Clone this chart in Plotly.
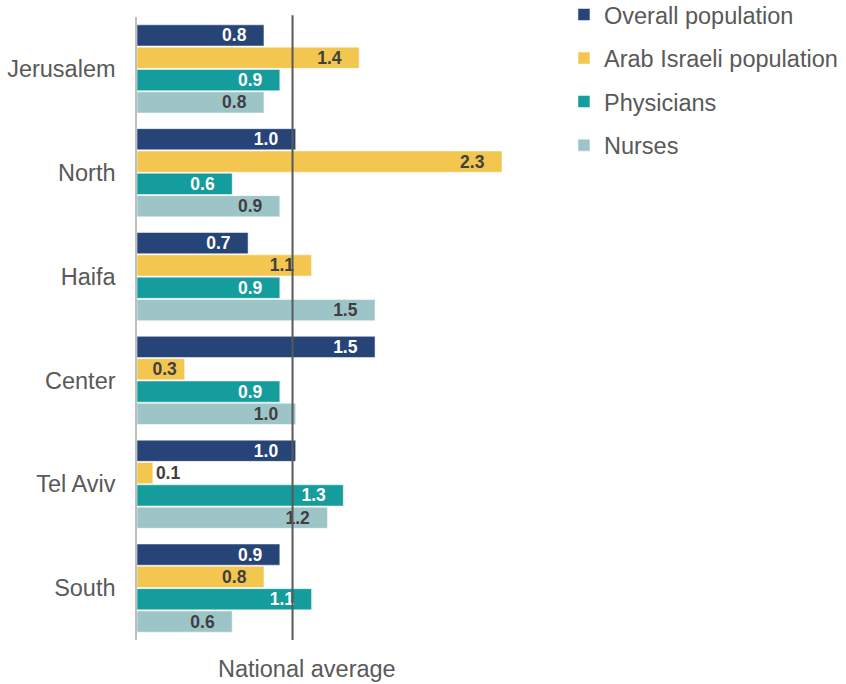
import plotly.graph_objects as go

# Regional ratios relative to the national average (1.0)
regions = ["Jerusalem", "North", "Haifa", "Center", "Tel Aviv", "South"]
overall = [0.8, 1.0, 0.7, 1.5, 1.0, 0.9]
arab_israeli = [1.4, 2.3, 1.1, 0.3, 0.1, 0.8]
physicians = [0.9, 0.6, 0.9, 0.9, 1.3, 1.1]
nurses = [0.8, 0.9, 1.5, 1.0, 1.2, 0.6]
national_average = 0.98

series = [
    ("Overall population", overall, "#264478", "white"),
    ("Arab Israeli population", arab_israeli, "#F2C64F", "#404040"),
    ("Physicians", physicians, "#159C9C", "white"),
    ("Nurses", nurses, "#9DC5C8", "#404040"),
]

FONT = "Liberation Sans, Arial, sans-serif"
W, H = 846, 684
ML, MR, MT, MB = 137, 290, 17, 44
PX_PER_UNIT = 158.7
x_max = (W - ML - MR) / PX_PER_UNIT


def bar_label(v, pos):
    # trailing no-break spaces keep inside labels clear of the bar end
    if pos != "inside":
        return f"{v:.1f}"
    pad = "\u00a0" * (3 if v >= 0.5 else 1)
    return f"{v:.1f}" + pad


fig = go.Figure()
for i, (name, vals, color, txtcolor) in enumerate(series):
    # small bars get their label outside the bar
    positions = ["inside" if v >= 0.25 else "outside" for v in vals]
    fig.add_trace(go.Bar(
        y=regions, x=vals, name=name, orientation="h",
        marker=dict(color=color, line=dict(color="white", width=0.5)),
        text=[bar_label(v, p) for v, p in zip(vals, positions)],
        textposition=positions,
        insidetextanchor="end",
        constraintext="none",
        insidetextfont=dict(family=FONT, size=17.5, color=txtcolor, weight="bold"),
        outsidetextfont=dict(family=FONT, size=17.5, color="#404040", weight="bold"),
        cliponaxis=False,
        legendgroup=name,
        hoverinfo="skip",
    ))

fig.add_shape(type="line", xref="x", yref="paper",
              x0=national_average, x1=national_average, y0=0, y1=1.003,
              line=dict(color="#595959", width=2), layer="above")

fig.add_annotation(text="National average", xref="x", yref="paper",
                   x=1.07, y=0, yshift=-14, yanchor="top", showarrow=False,
                   font=dict(family=FONT, size=23.5, color="#595959"))

fig.update_layout(
    width=W, height=H,
    margin=dict(l=ML, r=MR, t=MT, b=MB, autoexpand=False),
    paper_bgcolor="white", plot_bgcolor="white",
    barmode="group", bargap=0.14, bargroupgap=0.05,
    showlegend=True,
    legend=dict(x=1.019, xanchor="left", y=1.039, yanchor="top",
                font=dict(family=FONT, size=23.5, color="#595959"),
                tracegroupgap=10, traceorder="grouped",
                bgcolor="rgba(0,0,0,0)"),
    xaxis=dict(range=[0, x_max], showgrid=False, zeroline=False,
               showticklabels=False, ticks=""),
    yaxis=dict(autorange="reversed", showgrid=False, ticks="",
               showline=True, linecolor="#BFBFBF", linewidth=1.5,
               ticklabelstandoff=15,
               tickfont=dict(family=FONT, size=23.5, color="#595959")),
)

fig.write_html("out.html")
